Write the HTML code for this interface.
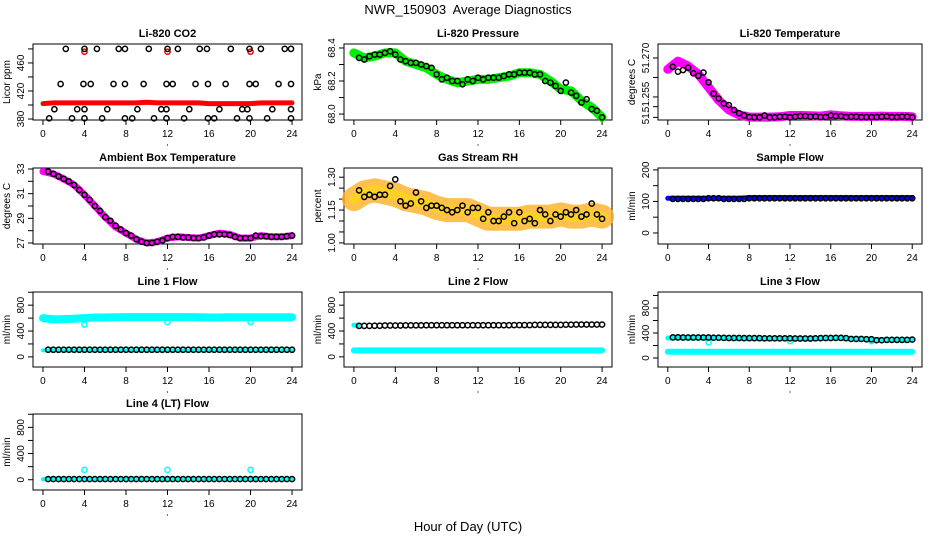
<!DOCTYPE html>
<html><head><meta charset="utf-8">
<style>
html,body{margin:0;padding:0;background:#fff;}
svg{display:block;font-family:"Liberation Sans",sans-serif;}
</style></head>
<body>
<svg id="chart" width="936" height="540" viewBox="0 0 936 540" xmlns="http://www.w3.org/2000/svg">
<rect x="0" y="0" width="936" height="540" fill="#fff"/>
<text x="468" y="14" text-anchor="middle" font-size="13">NWR_150903&#160; Average Diagnostics</text>
<text x="468" y="531" text-anchor="middle" font-size="13">Hour of Day (UTC)</text>
</svg>
<script>
// ---- data ----
const xTicks = [0,4,8,12,16,20,24];
const halfHours = [0.5,1,1.5,2,2.5,3,3.5,4,4.5,5,5.5,6,6.5,7,7.5,8,8.5,9,9.5,10,10.5,11,11.5,12,12.5,13,13.5,14,14.5,15,15.5,16,16.5,17,17.5,18,18.5,19,19.5,20,20.5,21,21.5,22,22.5,23,23.5,24];
const hours = [0,1,2,3,4,5,6,7,8,9,10,11,12,13,14,15,16,17,18,19,20,21,22,23,24];

// CO2
const co2BlackHours = [2.2,4,5.2,7.3,7.9,10.2,12,13,15.1,15.8,18.1,19.9,21,23.3,23.9, 1.7,3.9,4.6,6.8,7.9,9.7,11.9,12.5,14.7,15.9,17.6,19.9,20.5,22.7,23.9, 1.1,3.3,4,6.2,9.1,11.4,11.9,14.1,17,19.2,19.7,22.1,23.9, 0.6,2.8,4,5.7,7.9,8.6,10.7,11.9,13.6,15.9,16.5,18.7,19.9,21.6,23.9];
const co2BlackVals = [480,480,480,480,480,480,480,480,480,480,480,480,480,480,480, 430,430,430,430,430,430,430,430,430,430,430,430,430,430,430, 394,394,394,394,394,394,394,394,394,394,394,394,394, 381,381,381,381,381,381,381,381,381,381,381,381,381,381,381];
const co2Red = [402,403,403,403,403,403,403,403,403,403,404,403,403,403,403,403,402,402,402,402,402,403,403,403,403];
const co2RedSpikeHours = [4,12,20];
const co2RedSpikeVals = [476,476,476];

// Pressure
const presGreen = [68.37,68.34,68.35,68.37,68.37,68.32,68.30,68.28,68.24,68.21,68.19,68.20,68.21,68.21,68.22,68.23,68.25,68.25,68.24,68.20,68.15,68.14,68.08,68.04,67.98];
const presBlack = [68.34,68.33,68.35,68.36,68.36,68.37,68.38,68.36,68.33,68.32,68.31,68.31,68.30,68.29,68.28,68.24,68.21,68.22,68.20,68.20,68.18,68.21,68.20,68.22,68.21,68.22,68.22,68.22,68.23,68.24,68.24,68.25,68.25,68.25,68.24,68.24,68.20,68.19,68.17,68.14,68.19,68.13,68.11,68.07,68.09,68.03,68.02,67.98];

// Li-820 temperature
const tempMagenta = [51.2650,51.2675,51.2660,51.2635,51.2595,51.2555,51.2525,51.2510,51.2503,51.2503,51.2503,51.2504,51.2508,51.2508,51.2507,51.2506,51.2510,51.2507,51.2505,51.2505,51.2505,51.2506,51.2505,51.2505,51.2504];
const tempBlack = [51.2658,51.2643,51.2648,51.2655,51.2638,51.2630,51.2640,51.2610,51.2575,51.2560,51.2545,51.2540,51.2525,51.2515,51.2508,51.2503,51.2502,51.2502,51.2508,51.2502,51.2502,51.2504,51.2504,51.2502,51.2504,51.2506,51.2506,51.2504,51.2505,51.2503,51.2503,51.2508,51.2506,51.2506,51.2503,51.2504,51.2504,51.2503,51.2503,51.2503,51.2503,51.2504,51.2505,51.2503,51.2503,51.2504,51.2504,51.2502];

// Ambient box temperature
const ambMagenta = [32.8,32.6,32.2,31.7,30.9,30.0,29.1,28.3,27.8,27.3,27.0,27.1,27.4,27.5,27.45,27.4,27.6,27.8,27.7,27.4,27.4,27.6,27.5,27.5,27.6];
const ambBlack = [32.8,32.6,32.4,32.2,32.0,31.7,31.3,30.9,30.5,30.0,29.6,29.1,28.8,28.4,28.1,27.8,27.6,27.3,27.1,27.0,27.0,27.1,27.2,27.4,27.5,27.5,27.45,27.45,27.4,27.4,27.45,27.6,27.7,27.7,27.7,27.65,27.5,27.4,27.4,27.4,27.6,27.55,27.55,27.5,27.5,27.5,27.55,27.6];

// Gas stream RH
const rhOrange = [1.20,1.23,1.24,1.23,1.22,1.20,1.19,1.18,1.16,1.15,1.15,1.15,1.13,1.11,1.11,1.11,1.11,1.12,1.12,1.12,1.13,1.12,1.12,1.13,1.12];
const rhBlack = [1.24,1.21,1.22,1.21,1.22,1.22,1.26,1.29,1.19,1.17,1.18,1.23,1.19,1.16,1.17,1.17,1.16,1.15,1.14,1.15,1.17,1.14,1.16,1.16,1.11,1.14,1.10,1.10,1.12,1.14,1.09,1.14,1.10,1.11,1.09,1.15,1.13,1.10,1.13,1.12,1.14,1.13,1.15,1.12,1.13,1.18,1.13,1.11];

// Sample flow
const sampleBlue = [110,110,110,110,110,110,110,110,112,112,112,112,112,112,112,112,112,112,112,112,112,112,112,112,112];
const sampleBlack = [108,108,108,108,108,108,108,110,110,110,108,108,108,108,108,110,110,110,110,110,110,110,110,110,110,110,110,110,110,110,110,110,110,110,110,110,110,110,110,110,110,110,110,110,110,110,110,110];

// Line 1 flow
const l1CyanHigh = [600,580,585,590,600,610,610,612,615,615,615,615,615,615,615,612,610,610,612,612,612,612,612,612,612];
const l1CyanLow = [100,100,100,100,100,100,100,100,100,100,100,100,100,100,100,100,100,100,100,100,100,100,100,100,100];
const l1DipHours = [4,12,20];
const l1DipVals = [500,540,540];
const l1Black = [110,110,110,110,110,110,110,110,110,110,110,110,110,110,110,110,110,110,110,110,110,110,110,110,110,110,110,110,110,110,110,110,110,110,110,110,110,110,110,110,110,110,110,110,110,110,110,110];

// Line 2 flow
const l2Cyan = [100,100,100,100,100,100,100,100,100,100,100,100,100,100,100,100,100,100,100,100,100,100,100,100,100];
const l2CyanTop = [490,490];
const l2CyanTopHours = [0,0.4];
const l2Black = [480,480,480,482,482,485,485,485,485,488,488,488,488,490,490,490,490,490,490,490,490,490,490,490,490,490,490,490,490,490,492,492,492,492,495,495,495,495,495,495,498,498,500,500,500,500,500,500];

// Line 3 flow
const l3Cyan = [100,100,100,100,100,100,100,100,100,100,100,100,100,100,100,100,100,100,100,100,100,100,100,100,100];
const l3CyanTop = [320,320,320,320,320,318,315,312,310,308,305,305,305,305,305,310,315,315,305,300,300,290,290,285,290];
const l3Black = [330,330,328,328,328,328,328,328,325,325,322,320,320,320,318,318,318,318,315,315,315,315,315,315,312,312,312,312,315,318,320,320,322,322,318,305,305,305,300,300,285,285,290,290,290,290,290,295];
const l3DipHours = [4,12,20];
const l3DipVals = [250,270,270];

// Line 4 flow
const l4Cyan = [10,10,10,10,10,10,10,10,10,10,10,10,10,10,10,10,10,10,10,10,10,10,10,10,10];
const l4SpikeHours = [4,12,20];
const l4SpikeVals = [150,150,150];
const l4Black = [10,10,10,10,10,10,10,10,10,10,10,10,10,10,10,10,10,10,10,10,10,10,10,10,10,10,10,10,10,10,10,10,10,10,10,10,10,10,10,10,10,10,10,10,10,10,10,10];

// tick arrays
const co2Ticks = [380,400,420,440,460,480];
const co2Labels = ["380","","420","","460",""];
const presTicks = [68.0,68.1,68.2,68.3,68.4];
const presLabels = ["68.0","","68.2","","68.4"];
const tempTicks = [51.2502,51.2535,51.2565,51.2625,51.2685];
const tempLabels = ["51.","","51.255","","51.270"];
const ambTicks = [27,28,29,30,31,32,33];
const ambLabels = ["27","","29","","31","","33"];
const rhTicks = [1.00,1.05,1.10,1.15,1.20,1.25,1.30];
const rhLabels = ["1.00","","","1.15","","","1.30"];
const sfTicks = [0,50,100,150,200];
const sfLabels = ["0","","100","","200"];
const flowTicks = [0,200,400,600,800,1000];
const flowLabels = ["0","","400","","800",""];

// ---- drawing ----
const svg = document.getElementById('chart');
const NS = 'http://www.w3.org/2000/svg';
const colX = [[33,302],[344,612],[658,922]];
const rowY = [[44,120],[168,244],[292,367],[414,490]];
const XLIM = [-0.96,24.96];

function mk(tag, attrs, parent){
  const e = document.createElementNS(NS, tag);
  for (const k in attrs) e.setAttribute(k, attrs[k]);
  (parent||svg).appendChild(e);
  return e;
}
function makePanel(name, title, ylab, col, row, ylim, ticks, labels){
  const g = mk('g', {});
  
  
  const [x0,x1] = colX[col], [y0,y1] = rowY[row];
  const P = {g, x0,x1,y0,y1,
    x: h => x0 + (h - XLIM[0])/(XLIM[1]-XLIM[0])*(x1-x0),
    y: v => y1 - (v - ylim[0])/(ylim[1]-ylim[0])*(y1-y0)};
  const t = mk('text', {x:(x0+x1)/2, y:y0-7, 'text-anchor':'middle', 'font-size':'11', 'font-weight':'bold'}, g);
  t.textContent = title;
  
  
  const yl = mk('text', {x:0, y:0, 'text-anchor':'middle', 'font-size':'10', transform:`translate(${x0-23},${(y0+y1)/2}) rotate(-90)`}, g);
  yl.textContent = ylab;
  
  
  xTicks.forEach(h => {
    const px = P.x(h);
    mk('line', {x1:px, x2:px, y1:y1, y2:y1+5, stroke:'#000', 'stroke-width':1}, g);
    const tl = mk('text', {x:px, y:y1+17, 'text-anchor':'middle', 'font-size':'10'}, g);
    tl.textContent = String(h);
    
    
  });
  mk('line', {x1:P.x(0), x2:P.x(24), y1:y1, y2:y1, stroke:'#000'}, g);
  ticks.forEach((v,i) => {
    const py = P.y(v);
    mk('line', {x1:x0-5, x2:x0, y1:py, y2:py, stroke:'#000'}, g);
    if (labels[i]) {
      const tl = mk('text', {x:0, y:0, 'text-anchor':'middle', 'font-size':'10', transform:`translate(${x0-9},${py}) rotate(-90)`}, g);
      tl.textContent = labels[i];
      
      
    }
  });
  mk('line', {x1:x0, x2:x0, y1:P.y(ticks[0]), y2:P.y(ticks[ticks.length-1]), stroke:'#000'}, g);
  const box = mk('rect', {x:x0, y:y0, width:x1-x0, height:y1-y0, fill:'none', stroke:'#000', 'stroke-width':1}, g);
  
  
  mk('circle', {cx:(x0+x1)/2, cy:y1+25, r:0.6, fill:'#000'}, g);
  return P;
}
function band(P, xs, vs, color, width, name){
  const d = xs.map((h,i) => (i?'L':'M') + P.x(h).toFixed(1) + ',' + P.y(vs[i]).toFixed(1)).join(' ');
  const p = mk('path', {d, fill:'none', stroke:color, 'stroke-width':width, 'stroke-linejoin':'round', 'stroke-linecap':'round'}, P.g);
  
  
  return p;
}
function circles(P, xs, vs, color, name, r, sw){
  const g = mk('g', {}, P.g);
  
  
  xs.forEach((h,i) => {
    const c = mk('circle', {cx:P.x(h), cy:P.y(vs[i]), r:r||2.6, fill:'none', stroke:color, 'stroke-width':sw||1.5}, g);
    
    
  });
}

let P = makePanel('panel-co2', 'Li-820 CO2', 'Licor ppm', 0, 0, [378.6,487], co2Ticks, co2Labels);
band(P, hours, co2Red, '#ff0000', 5, 'co2-red-series');
circles(P, co2RedSpikeHours, co2RedSpikeVals, '#ff0000', 'co2-red-spikes');
circles(P, co2BlackHours, co2BlackVals, '#000', 'co2-black-points');

P = makePanel('panel-pressure', 'Li-820 Pressure', 'kPa', 1, 0, [67.964,68.424], presTicks, presLabels);
band(P, hours, presGreen, '#00ee00', 9, 'pressure-green-series');
circles(P, halfHours, presBlack, '#000', 'pressure-black-points');

P = makePanel('panel-li820-temp', 'Li-820 Temperature', 'degrees C', 2, 0, [51.2494,51.2728], tempTicks, tempLabels);
band(P, hours, tempMagenta, '#ff00ff', 9, 'li820-temp-magenta-series');
circles(P, halfHours, tempBlack, '#000', 'li820-temp-black-points');

P = makePanel('panel-ambient-temp', 'Ambient Box Temperature', 'degrees C', 0, 1, [26.92,33.08], ambTicks, ambLabels);
band(P, hours, ambMagenta, '#ff00ff', 7, 'ambient-magenta-series');
circles(P, halfHours, ambBlack, '#000', 'ambient-black-points');

P = makePanel('panel-gas-rh', 'Gas Stream RH', 'percent', 1, 1, [0.995,1.342], rhTicks, rhLabels);
band(P, hours, rhOrange, '#ffb020', 24, 'rh-orange-series').setAttribute('stroke-opacity','0.8');
band(P, hours, rhOrange, '#ffe000', 10, 'rh-yellow-core').setAttribute('stroke-opacity','0.5');
circles(P, halfHours, rhBlack, '#000', 'rh-black-points');

P = makePanel('panel-sample-flow', 'Sample Flow', 'ml/min', 2, 1, [-35,206], sfTicks, sfLabels);
band(P, hours, sampleBlue, '#0000ff', 5, 'sample-blue-series');
circles(P, halfHours, sampleBlack, '#000', 'sample-black-points');

P = makePanel('panel-line1-flow', 'Line 1 Flow', 'ml/min', 0, 2, [-157,1004], flowTicks, flowLabels);
band(P, hours, l1CyanHigh, '#00ffff', 8, 'line1-cyan-high');
band(P, hours, l1CyanLow, '#00ffff', 4, 'line1-cyan-low');
circles(P, l1DipHours, l1DipVals, '#00ffff', 'line1-cyan-dips');
circles(P, halfHours, l1Black, '#000', 'line1-black-points');

P = makePanel('panel-line2-flow', 'Line 2 Flow', 'ml/min', 1, 2, [-157,1004], flowTicks, flowLabels);
band(P, hours, l2Cyan, '#00ffff', 6, 'line2-cyan-series');
band(P, l2CyanTopHours, l2CyanTop, '#00ffff', 5, 'line2-cyan-top');
circles(P, halfHours, l2Black, '#000', 'line2-black-points');

P = makePanel('panel-line3-flow', 'Line 3 Flow', 'ml/min', 2, 2, [-144,1056], flowTicks, flowLabels);
band(P, hours, l3Cyan, '#00ffff', 6, 'line3-cyan-low');
band(P, hours, l3CyanTop, '#00ffff', 5, 'line3-cyan-top');
circles(P, l3DipHours, l3DipVals, '#00ffff', 'line3-cyan-dips');
circles(P, halfHours, l3Black, '#000', 'line3-black-points');

P = makePanel('panel-line4-flow', 'Line 4 (LT) Flow', 'ml/min', 0, 3, [-157,1004], flowTicks, flowLabels);
band(P, hours, l4Cyan, '#00ffff', 4, 'line4-cyan-series');
circles(P, l4SpikeHours, l4SpikeVals, '#00ffff', 'line4-cyan-spikes');
circles(P, halfHours, l4Black, '#000', 'line4-black-points');
</script>
</body></html>
